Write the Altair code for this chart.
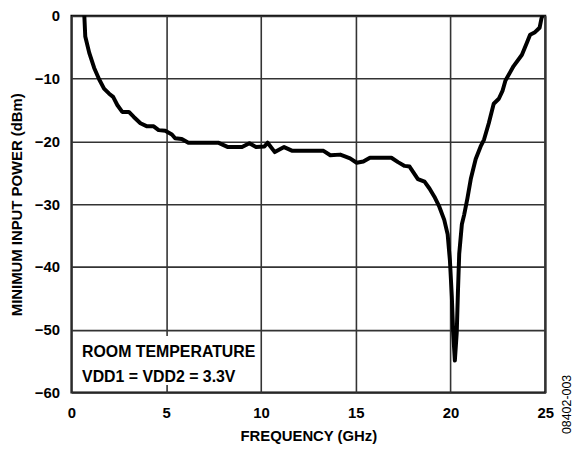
import altair as alt
import pandas as pd

# Frequency (GHz) and minimum input power (dBm)
freq = [0.68, 0.73, 0.94, 1.20, 1.46, 1.72, 1.99, 2.20, 2.42, 2.68, 3.03, 3.29, 3.64,
        3.99, 4.34, 4.60, 4.95, 5.30, 5.47, 5.82, 6.17, 7.74, 8.26, 9.00, 9.39, 9.74,
        10.18, 10.35, 10.73, 11.22, 11.66, 13.30, 13.66, 14.18, 14.36, 14.70, 15.05,
        15.40, 15.75, 16.88, 17.23, 17.58, 17.84, 18.28, 18.63, 18.89, 19.15, 19.41,
        19.67, 19.85, 19.97, 20.07, 20.14, 20.23, 20.33, 20.39, 20.46, 20.60, 20.72,
        20.89, 21.07, 21.33, 21.59, 21.77, 22.02, 22.28, 22.55, 22.75, 22.90, 23.33,
        23.77, 24.03, 24.20, 24.46, 24.70, 24.80, 24.85]
power = [0.0, -3.3, -5.9, -8.3, -10.1, -11.6, -12.4, -12.9, -14.2, -15.3, -15.3, -16.1, -17.1,
         -17.6, -17.6, -18.2, -18.3, -18.9, -19.5, -19.6, -20.2, -20.2, -20.9, -20.9, -20.3, -20.9,
         -20.8, -20.2, -21.7, -20.9, -21.5, -21.5, -22.2, -22.1, -22.3, -22.7, -23.4,
         -23.2, -22.6, -22.6, -23.3, -23.9, -24.0, -26.0, -26.4, -27.5, -28.8, -30.4,
         -32.5, -34.8, -39.0, -44.7, -50.4, -54.9, -50.4, -44.2, -37.9, -33.2, -31.7,
         -29.1, -26.0, -22.8, -20.8, -19.7, -17.1, -14.0, -13.2, -11.9, -10.3, -8.0,
         -6.2, -4.3, -3.0, -2.6, -1.9, -0.4, 0.0]

x_ticks = [0, 5, 10, 15, 20, 25]
y_ticks = [0, -10, -20, -30, -40, -50, -60]
note_lines = ["ROOM TEMPERATURE", "VDD1 = VDD2 = 3.3V"]
note_x = [0.56, 0.56]
note_y = [-54.3, -58.3]
box_x = [0.1]
box_x2 = [9.6]
box_y = [-51.0]
box_y2 = [-58.8]
fig_id = ["08402-003"]

FONT = "Liberation Sans"

df = pd.DataFrame({"f": freq, "p": power, "i": list(range(len(freq)))})
notes = pd.DataFrame({"t": note_lines, "x": note_x, "y": note_y})
box_df = pd.DataFrame({"x": box_x, "x2": box_x2, "y": box_y, "y2": box_y2})
id_df = pd.DataFrame({"t": fig_id})

x_scale = alt.Scale(domain=[0, 25], nice=False, zero=False)
y_scale = alt.Scale(domain=[-60, 0], nice=False, zero=False)

x_axis = alt.Axis(values=x_ticks, title="FREQUENCY (GHz)", grid=True, gridColor="#333333",
                  gridWidth=1.6, domain=False, ticks=False, labelFont=FONT, labelFontSize=15,
                  labelFontWeight="bold", labelColor="black", labelPadding=13, labelFlush=False,
                  titleFont=FONT, titleFontSize=15, titleFontWeight="bold", titleColor="black",
                  titlePadding=8)
y_axis = alt.Axis(values=y_ticks, title="MINIMUM INPUT POWER (dBm)", grid=True, gridColor="#333333",
                  gridWidth=1.6, domain=False, ticks=False, labelFont=FONT, labelFontSize=15,
                  labelFontWeight="bold", labelColor="black", labelPadding=12, labelFlush=False,
                  format="d", titleFont=FONT, titleFontSize=15, titleFontWeight="bold",
                  titleColor="black", titlePadding=10)

line = alt.Chart(df).mark_line(color="black", strokeWidth=4, strokeJoin="round",
                               strokeCap="round", clip=True).encode(
    x=alt.X("f:Q", scale=x_scale, axis=x_axis),
    y=alt.Y("p:Q", scale=y_scale, axis=y_axis),
    order="i:Q",
)

box = alt.Chart(box_df).mark_rect(fill="white").encode(
    x=alt.X("x:Q", scale=x_scale), x2="x2:Q",
    y=alt.Y("y:Q", scale=y_scale), y2="y2:Q",
)

note = alt.Chart(notes).mark_text(font=FONT, fontSize=16, fontWeight="bold", align="left",
                                  baseline="alphabetic", color="black").encode(
    x=alt.X("x:Q", scale=x_scale), y=alt.Y("y:Q", scale=y_scale), text="t:N"
)

fid = alt.Chart(id_df).mark_text(font=FONT, fontSize=12.5, angle=270, align="center",
                                 baseline="middle", color="black").encode(
    x=alt.value(500), y=alt.value(392), text="t:N"
)

chart = alt.layer(box, note, line, fid).properties(
    width=478, height=380,
    padding={"left": 64, "top": 6, "right": 30, "bottom": 52},
    autosize="none",
).configure_view(stroke="black", strokeWidth=2)

chart.save("out.html", embed_options={"renderer": "svg", "actions": False})
